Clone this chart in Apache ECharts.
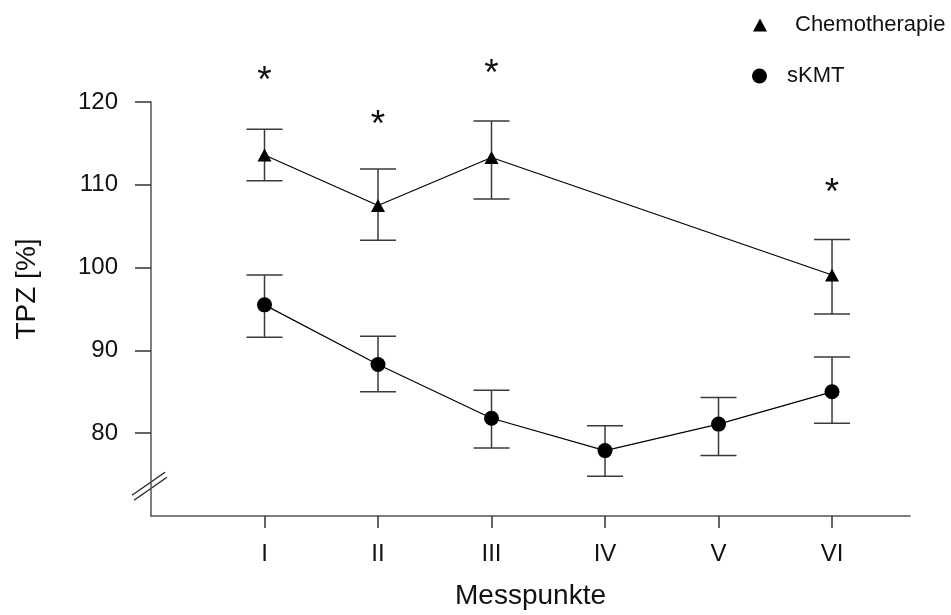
<!DOCTYPE html>
<html>
<head>
<meta charset="utf-8">
<script src="https://cdn.jsdelivr.net/npm/echarts@6/dist/echarts.min.js"></script>
<style>
html,body{margin:0;padding:0;background:#fff;}
#c{width:951px;height:615px;}
</style>
</head>
<body>
<div id="c"></div>
<script>
// ---- data ----
var categories = ['I', 'II', 'III', 'IV', 'V', 'VI'];
var categoryPos = [1, 2, 3, 4, 5, 6];
var yTicks = [80, 90, 100, 110, 120];

var chemoPos = [1, 2, 3, 6];
var chemoMean = [113.6, 107.5, 113.3, 99.1];
var chemoUpper = [116.7, 111.9, 117.7, 103.4];
var chemoLower = [110.5, 103.3, 108.3, 94.4];

var skmtPos = [1, 2, 3, 4, 5, 6];
var skmtMean = [95.5, 88.3, 81.8, 77.9, 81.1, 85.0];
var skmtUpper = [99.1, 91.7, 85.2, 80.9, 84.3, 89.2];
var skmtLower = [91.6, 85.0, 78.2, 74.8, 77.3, 81.2];

var starPos = [1, 2, 3, 6];
var starY = [123.4, 118.1, 124.3, 109.9];

var FONT = '"Liberation Sans", Arial, sans-serif';

function zip(xs, ys) { return xs.map(function (x, i) { return [x, ys[i]]; }); }
function errData(xs, lo, hi) { return xs.map(function (x, i) { return [x, lo[i], hi[i]]; }); }

function errRender(params, api) {
  var x = api.value(0);
  var lo = api.coord([x, api.value(1)]);
  var hi = api.coord([x, api.value(2)]);
  var hw = 18;
  var st = { stroke: '#3a3a3a', lineWidth: 1.5 };
  return {
    type: 'group',
    children: [
      { type: 'line', shape: { x1: lo[0], y1: lo[1], x2: hi[0], y2: hi[1] }, style: st },
      { type: 'line', shape: { x1: hi[0] - hw, y1: hi[1], x2: hi[0] + hw, y2: hi[1] }, style: st },
      { type: 'line', shape: { x1: lo[0] - hw, y1: lo[1], x2: lo[0] + hw, y2: lo[1] }, style: st }
    ]
  };
}

var chart = echarts.init(document.getElementById('c'), null, { renderer: 'canvas' });

var option = {
  backgroundColor: '#fff',
  animation: false,
  textStyle: { fontFamily: FONT },
  grid: { left: 151, right: 41, top: 102, bottom: 98, containLabel: false },
  legend: [
    {
      data: [{ name: 'Chemotherapie', icon: 'triangle' }],
      left: 748, top: 9, itemWidth: 14, itemHeight: 13,
      textStyle: { fontSize: 22, color: '#111', fontFamily: FONT, padding: [0, 0, 0, 23] },
      selectedMode: false
    },
    {
      data: [{ name: 'sKMT', icon: 'circle' }],
      left: 747, top: 60, itemWidth: 15, itemHeight: 15,
      textStyle: { fontSize: 22, color: '#111', fontFamily: FONT, padding: [0, 0, 0, 15] },
      selectedMode: false
    }
  ],
  xAxis: {
    type: 'value',
    min: 0, max: 6.687,
    name: 'Messpunkte',
    nameLocation: 'middle',
    nameGap: 66,
    nameTextStyle: { fontSize: 28, color: '#111', fontFamily: FONT },
    axisLine: { show: true, lineStyle: { color: '#555', width: 1.5 } },
    axisTick: { show: true, length: 12, customValues: categoryPos, lineStyle: { color: '#333', width: 1.5 } },
    axisLabel: {
      customValues: categoryPos,
      margin: 26, fontSize: 24, color: '#111', fontFamily: FONT,
      formatter: function (v) { return categories[Math.round(v) - 1] || ''; }
    },
    splitLine: { show: false }
  },
  yAxis: {
    type: 'value',
    min: 70, max: 120,
    name: 'TPZ [%]',
    nameLocation: 'middle',
    nameGap: 110,
    nameRotate: 90,
    nameTextStyle: { fontSize: 28, color: '#111', fontFamily: FONT, padding: [0, 0, 0, 40] },
    axisLine: { show: true, lineStyle: { color: '#555', width: 1.5 } },
    axisTick: { show: true, length: 16, customValues: yTicks, lineStyle: { color: '#333', width: 1.5 } },
    axisLabel: { customValues: yTicks, margin: 33, fontSize: 24, color: '#111', fontFamily: FONT },
    splitLine: { show: false }
  },
  series: [
    {
      type: 'custom', name: 'chemoErr', renderItem: errRender,
      data: errData(chemoPos, chemoLower, chemoUpper), z: 2, silent: true
    },
    {
      type: 'custom', name: 'skmtErr', renderItem: errRender,
      data: errData(skmtPos, skmtLower, skmtUpper), z: 2, silent: true
    },
    {
      type: 'line', name: 'Chemotherapie',
      data: zip(chemoPos, chemoMean),
      symbol: 'triangle', symbolSize: [14, 13],
      itemStyle: { color: '#000' },
      lineStyle: { color: '#000', width: 1.2 },
      z: 3
    },
    {
      type: 'line', name: 'sKMT',
      data: zip(skmtPos, skmtMean),
      symbol: 'circle', symbolSize: 15,
      itemStyle: { color: '#000' },
      lineStyle: { color: '#000', width: 1.2 },
      z: 3
    },
    {
      type: 'custom', name: 'stars', clip: false, silent: true,
      data: zip(starPos, starY),
      renderItem: function (params, api) {
        var p = api.coord([api.value(0), api.value(1)]);
        return {
          type: 'text',
          x: p[0], y: p[1] + 8,
          style: { text: '*', fontSize: 37, fill: '#111', align: 'center', verticalAlign: 'middle', fontFamily: FONT }
        };
      }
    }
  ]
};

chart.setOption(option);

// axis break marks on the y axis
var bp = chart.convertToPixel({ gridIndex: 0 }, [0, 73.6]);
chart.setOption({
  graphic: [
    { type: 'line', shape: { x1: bp[0] - 19, y1: bp[1] + 9, x2: bp[0] + 14, y2: bp[1] - 14 }, style: { stroke: '#222', lineWidth: 1.3 } },
    { type: 'line', shape: { x1: bp[0] - 17, y1: bp[1] + 14, x2: bp[0] + 16, y2: bp[1] - 9 }, style: { stroke: '#222', lineWidth: 1.3 } }
  ]
});
</script>
</body>
</html>
